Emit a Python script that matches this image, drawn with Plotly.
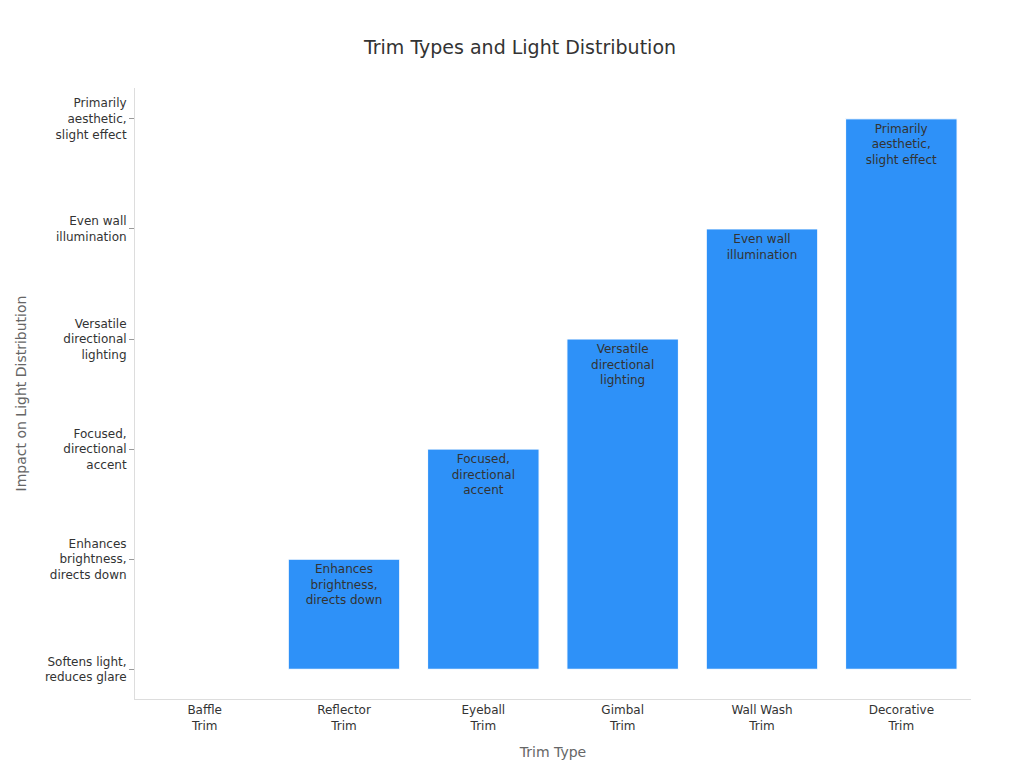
import plotly.graph_objects as go

trim_types = ["Baffle<br>Trim", "Reflector<br>Trim", "Eyeball<br>Trim", "Gimbal<br>Trim",
              "Wall Wash<br>Trim", "Decorative<br>Trim"]
impact_levels = [0, 1, 2, 3, 4, 5]
impact_labels = ["Softens light,<br>reduces glare", "Enhances<br>brightness,<br>directs down",
                 "Focused,<br>directional<br>accent", "Versatile<br>directional<br>lighting",
                 "Even wall<br>illumination", "Primarily<br>aesthetic,<br>slight effect"]

fig = go.Figure()
fig.add_trace(go.Bar(
    x=trim_types, y=impact_levels,
    text=impact_labels, textposition="inside", insidetextanchor="end",
    textfont=dict(color="#333333", size=12),
    marker=dict(color="#2E91F8", line=dict(color="white", width=1)),
    width=0.8,
))
fig.update_layout(
    title=dict(text="Trim Types and Light Distribution", x=0.5, y=0.957,
               font=dict(size=19, color="#333333")),
    font=dict(family="DejaVu Sans", size=12, color="#333333"),
    width=1024, height=768,
    margin=dict(l=127, r=61, t=80, b=77),
    plot_bgcolor="white", paper_bgcolor="white",
    showlegend=False,
    uniformtext=dict(mode="show", minsize=12),
)
fig.update_xaxes(title=dict(text="Trim Type", font=dict(size=14, color="#666666")),
                 showline=True, linecolor="#dddddd", tickfont=dict(size=12))
fig.update_yaxes(title=dict(text="Impact on Light Distribution", font=dict(size=14, color="#666666")),
                 tickvals=impact_levels, ticktext=impact_labels, range=[-0.27, 5.28],
                 showgrid=False, zeroline=False, showline=True, linecolor="#dddddd",
                 ticks="outside", ticklen=5, tickcolor="#999999")
fig.write_html("out.html")
